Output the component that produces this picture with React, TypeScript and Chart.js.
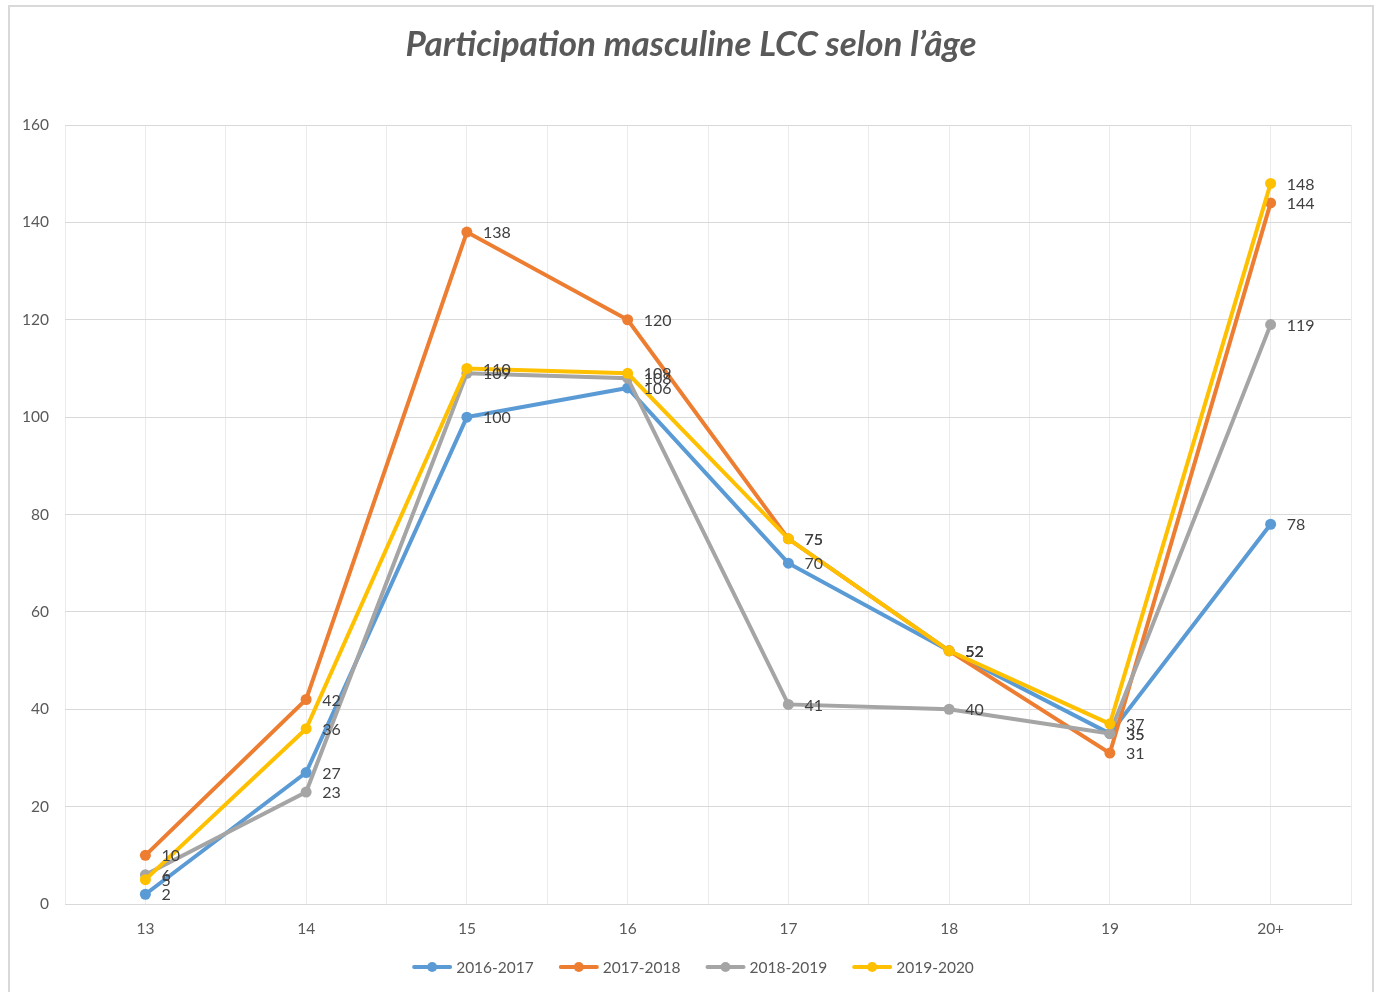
import React, { useEffect, useRef } from "react";
import { Chart, registerables } from "chart.js";

Chart.register(...registerables);

const TITLE = "Participation masculine LCC selon l’âge";
const categories = ["13", "14", "15", "16", "17", "18", "19", "20+"];
const seriesNames = ["2016-2017", "2017-2018", "2018-2019", "2019-2020"];
const s2016 = [2, 27, 100, 106, 70, 52, 35, 78];
const s2017 = [10, 42, 138, 120, 75, 52, 31, 144];
const s2018 = [6, 23, 109, 108, 41, 40, 35, 119];
const s2019 = [5, 36, 110, 109, 75, 52, 37, 148];
const seriesColors = ["#5B9BD5", "#ED7D31", "#A5A5A5", "#FFC000"];
const yTicks = [0, 20, 40, 60, 80, 100, 120, 140, 160];

const FONT = "Lato, 'Open Sans', sans-serif";

const decorPlugin = {
  id: "decor",
  afterDatasetsDraw(chart: any) {
    const ctx = chart.ctx;
    ctx.save();
    ctx.font = `16px ${FONT}`;
    ctx.fillStyle = "#404040";
    ctx.textAlign = "left";
    ctx.textBaseline = "middle";
    chart.data.datasets.forEach((ds: any, di: number) => {
      const meta = chart.getDatasetMeta(di);
      meta.data.forEach((pt: any, i: number) => {
        const v = ds.data[i].y;
        ctx.fillText(String(v), pt.x + 16, pt.y + 1);
      });
    });
    ctx.restore();
  },
  afterDraw(chart: any) {
    const ctx = chart.ctx;
    const cx = chart.width / 2;
    ctx.save();
    // title
    ctx.font = `italic bold 35px ${FONT}`;
    ctx.fillStyle = "#595959";
    ctx.textAlign = "center";
    ctx.textBaseline = "middle";
    ctx.fillText(TITLE, cx, 45);
    // legend
    ctx.font = `15.5px ${FONT}`;
    const markW = 40;
    const gapText = 4;
    const gapItem = 25;
    const items = chart.data.datasets.map((ds: any) => ({
      text: ds.label,
      color: ds.borderColor,
      w: markW + gapText + ctx.measureText(ds.label).width,
    }));
    const total = items.reduce((a: number, it: any) => a + it.w, 0) + gapItem * (items.length - 1);
    let x = cx + 2 - total / 2;
    const y = 967;
    items.forEach((it: any) => {
      ctx.strokeStyle = it.color;
      ctx.lineWidth = 4;
      ctx.lineCap = "round";
      ctx.beginPath();
      ctx.moveTo(x + 2, y);
      ctx.lineTo(x + markW - 2, y);
      ctx.stroke();
      ctx.fillStyle = it.color;
      ctx.beginPath();
      ctx.arc(x + markW / 2, y, 5, 0, Math.PI * 2);
      ctx.fill();
      ctx.fillStyle = "#595959";
      ctx.textAlign = "left";
      ctx.textBaseline = "middle";
      ctx.fillText(it.text, x + markW + gapText, y + 1);
      x += it.w + gapItem;
    });
    ctx.restore();
  },
};

export default function App() {
  const ref = useRef<HTMLCanvasElement>(null);
  useEffect(() => {
    if (!ref.current) return;
    const all = [s2016, s2017, s2018, s2019];
    const chart = new Chart(ref.current, {
      type: "line",
      data: {
        datasets: all.map((vals, si) => ({
          label: seriesNames[si],
          data: vals.map((v, i) => ({ x: i, y: v })),
          borderColor: seriesColors[si],
          backgroundColor: seriesColors[si],
          pointBackgroundColor: seriesColors[si],
          pointBorderColor: seriesColors[si],
          borderWidth: 4,
          pointRadius: 5.5,
          pointBorderWidth: 0,
          tension: 0,
          order: all.length - si,
        })),
      },
      options: {
        animation: false,
        responsive: true,
        maintainAspectRatio: false,
        layout: { padding: { left: 0, right: 31, top: 125, bottom: 48 } },
        plugins: {
          legend: { display: false },
          title: { display: false },
          tooltip: { enabled: false },
        },
        scales: {
          x: {
            type: "linear",
            min: -0.5,
            max: 7.5,
            afterFit: (s: any) => {
              s.height = 40;
            },
            afterBuildTicks: (s: any) => {
              const t: any[] = [];
              for (let i = 0; i <= categories.length * 2; i++) t.push({ value: -0.5 + i * 0.5 });
              s.ticks = t;
            },
            ticks: {
              autoSkip: false,
              maxRotation: 0,
              padding: 16,
              color: "#595959",
              font: { family: FONT, size: 15.5 },
              callback: (v: any) => (Number.isInteger(v) ? categories[v] : ""),
            },
            grid: { color: "#ebebeb", drawTicks: false, lineWidth: 1 },
            border: { color: "#d9d9d9", width: 1 },
          },
          y: {
            min: 0,
            max: 160,
            afterFit: (s: any) => {
              s.width = 65;
            },
            afterBuildTicks: (s: any) => {
              s.ticks = yTicks.map((v) => ({ value: v }));
            },
            ticks: {
              padding: 16,
              color: "#595959",
              font: { family: FONT, size: 15.5 },
            },
            grid: { color: "#d9d9d9", drawTicks: false, lineWidth: 1 },
            border: { display: false },
          },
        },
      },
      plugins: [decorPlugin],
    });
    return () => chart.destroy();
  }, []);
  return (
    <div style={{ position: "absolute", left: 0, top: 0, width: 1382, height: 992, overflow: "hidden", background: "#fff" }}>
      <div style={{ position: "absolute", left: 8, top: 5, width: 1362, height: 1000, border: "2px solid #d9d9d9" }} />
      <div style={{ position: "absolute", left: 0, top: 0, width: 1382, height: 992 }}>
        <canvas ref={ref} />
      </div>
    </div>
  );
}
